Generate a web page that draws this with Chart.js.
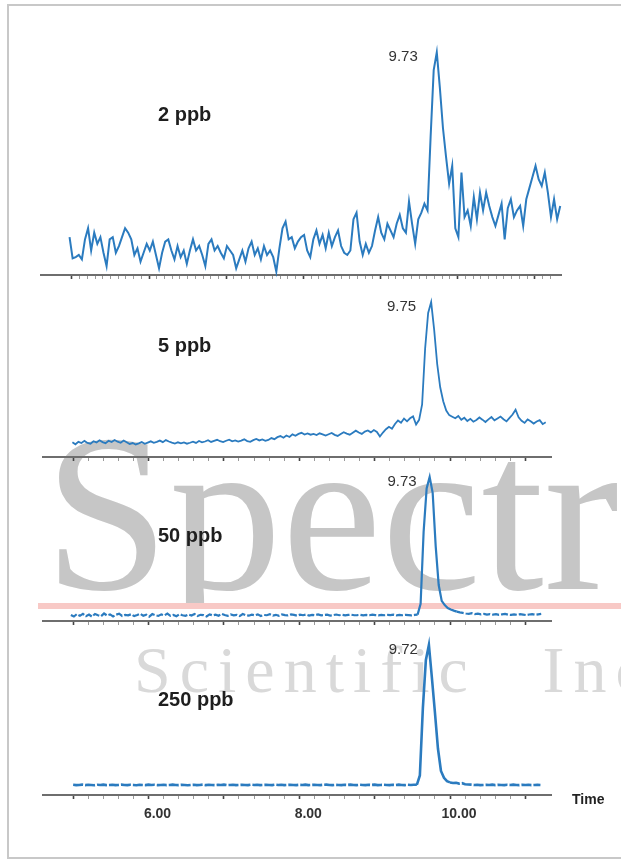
<!DOCTYPE html>
<html>
<head>
<meta charset="utf-8">
<script src="https://cdn.jsdelivr.net/npm/chart.js@4.4.1/dist/chart.umd.min.js"></script>
<style>
  html, body { margin: 0; padding: 0; background: #fff; }
  body { width: 621px; height: 860px; position: relative; overflow: hidden;
         font-family: "Liberation Sans", Arial, sans-serif; }
  .frame { position: absolute; left: 7px; top: 4px; width: 720px; height: 851px;
           border: 2px solid #c8c8c8; }
  .wm-clip { position: absolute; left: 0; top: 0; width: 621px; height: 603px; overflow: hidden; }
  .wm { position: absolute; white-space: nowrap;
        font-family: "Liberation Serif", "Times New Roman", serif; }
  .wm.big { left: 44px; top: 401px; font-size: 225px; line-height: 225px; color: #c6c6c6; }
  .wm.small { left: 134px; top: 637px; font-size: 66px; line-height: 66px; color: #d9d9d9;
              letter-spacing: 9px; word-spacing: 40px; }
  .band { position: absolute; left: 38px; top: 603px; width: 600px; height: 6px; background: #f8c9c6; }
  canvas { position: absolute; left: 0; }
  .conc { position: absolute; left: 158px; font: bold 20px/20px "Liberation Sans", Arial, sans-serif;
          color: #1e1e1e; white-space: nowrap; }
  .axis-title { position: absolute; left: 572px; top: 792px; font: bold 14px/14px "Liberation Sans", Arial, sans-serif;
                color: #222; }
</style>
</head>
<body>
<div class="frame"></div>
<div class="wm-clip"><div class="wm big">Spectr</div></div>
<div class="wm small">Scientific Inc</div>
<div class="band"></div>
<canvas id="p1" width="621" height="255" style="top:30px"></canvas>
<canvas id="p2" width="621" height="182" style="top:285px"></canvas>
<canvas id="p3" width="621" height="166" style="top:465px"></canvas>
<canvas id="p4" width="621" height="205" style="top:630px"></canvas>
<div id="labels"></div>
<div class="axis-title">Time</div>

<script>
// Detector readings, one every SAMPLE_STEP minutes, starting at each run's first time.
const SAMPLE_STEP = 0.04;

const start2ppb = 4.97;
const signal2ppb = [
  17, 7.5, 8, 9, 7, 16, 21, 11, 19, 14,
  17, 10, 4, 16, 17, 10, 13, 17, 21, 19,
  16, 9, 12, 6, 10, 14, 11, 15, 9, 3,
  10, 15, 16, 11, 7, 13, 8, 11, 5, 11,
  16, 11, 13, 9, 4, 14, 16, 11, 13, 10,
  7.5, 13, 11, 9, 3, 7, 11, 6, 12, 15,
  9, 12, 7, 13, 9, 11, 8, 1.5, 12, 21,
  24, 16, 17, 12, 15, 17, 18, 11, 8, 16,
  20, 14, 18, 12, 19, 13, 17, 20, 13, 10,
  9, 11, 25, 28, 15, 9, 14, 10, 13, 20,
  26, 19, 16, 23, 20, 17, 23, 27, 21, 19,
  33, 23, 14, 25, 28, 32, 29, 62, 92, 100,
  84, 66, 53, 41, 49, 21, 17, 46, 26, 29,
  22, 35, 25, 37, 29, 37, 31, 26, 22, 27,
  32, 16, 30, 34, 26, 29, 31, 22, 34, 39,
  44, 49, 43, 40, 46, 37, 26, 34, 25, 31
];

const start5ppb = 4.99;
const signal5ppb = [
  9.5, 8.2, 9.8, 9.0, 10.4, 9.1, 8.6, 10.2, 9.4, 10.8, 9.6, 8.9, 10.5, 9.7, 11.0, 9.9, 9.2, 10.6, 9.5, 8.4,
  9.0, 8.1, 8.8, 9.7, 8.5, 9.3, 10.1, 9.2, 9.8, 10.6, 9.6, 10.9, 10.0, 9.3, 8.7, 9.5, 8.8, 9.4, 8.6, 9.2,
  9.9, 9.1, 10.3, 9.5, 10.0, 10.8, 9.7, 10.4, 11.1, 10.2, 9.6, 10.5, 11.2, 10.1, 10.7, 9.9, 10.6, 11.4, 10.3, 9.8,
  10.9, 11.6, 10.7, 11.3, 10.4, 11.0, 12.2, 11.5, 12.8, 13.5, 12.4, 13.9, 12.9, 14.6, 13.7, 14.9, 15.6, 14.5, 15.2, 14.4,
  14.9, 14.2, 15.3, 14.6, 13.8, 14.7, 15.5, 14.3, 13.6, 14.8, 16.0, 15.1, 14.4, 15.7, 17.0, 15.8, 14.9, 16.4, 17.1, 15.9,
  17.4, 16.2, 13.2, 15.8, 17.9, 19.5, 18.2, 21.3, 23.6, 22.1, 24.8, 23.0, 25.0, 26.2, 21.0,
  24, 34, 70, 93, 100, 82, 60, 45, 36, 30, 27, 26, 25,
  26.5, 24.0, 25.3, 23.2, 24.6, 22.8, 23.9, 25.5, 24.1, 22.6, 24.3, 25.8, 23.7, 24.9, 26.1,
  24.4, 23.0, 25.2, 27.4, 30.5, 25.6, 23.4, 22.0, 24.2, 23.1, 21.6, 22.9, 23.8, 21.2, 22.4
];

const start50ppb = 4.97;
const signal50ppb = [
  4.2, 3.1, 4.8, 3.6, 5.0, 3.4, 4.5, 3.0, 4.9, 4.0, 3.3, 5.2, 3.8, 4.6, 3.2, 4.4, 5.1, 3.5, 4.3, 3.9,
  4.7, 3.4, 4.1, 5.0, 3.7, 4.4, 3.1, 4.8, 4.0, 3.5, 4.6, 3.9, 5.1, 3.6, 4.2, 3.3, 4.7, 4.0, 3.6, 4.5,
  3.8, 4.9, 3.5, 4.3, 4.1, 3.2, 4.6, 3.9, 4.4, 3.7, 5.0, 4.2, 3.6, 4.5, 3.9, 4.3, 3.4, 4.8, 4.0, 3.7,
  4.4, 3.9, 4.6, 3.5, 4.2, 4.0, 4.7, 3.8, 4.3, 3.6, 4.5, 4.1, 3.9, 4.6, 4.2, 3.7, 4.4, 4.0, 4.5, 3.8,
  4.3, 4.0, 4.6, 3.9, 4.2, 4.4, 3.8, 4.1, 4.5, 4.0, 4.3, 3.9, 4.2, 4.4, 4.0, 4.1, 4.3, 3.9, 4.2, 4.0,
  4.4, 4.1, 3.9, 4.3, 4.0, 4.2, 4.1, 4.4, 3.9, 4.2, 4.0, 4.3, 4.1, 3.9, 4.2,
  4.4, 12, 62, 92, 100, 89, 52, 25, 14, 11, 9, 8, 7.2, 6.5, 6.0, 5.6, 5.2,
  5.0, 5.4, 4.8, 5.1, 4.6, 4.9, 4.5, 4.8, 4.4, 4.7, 4.3, 4.6, 4.9,
  4.4, 4.2, 4.6, 4.3, 4.7, 4.4, 4.1, 4.5, 4.8, 4.3, 4.6, 4.9
];

const start250ppb = 5.00;
const signal250ppb = [
  6.8, 6.6, 6.7, 6.9, 6.6, 6.8, 6.7, 6.5, 6.8, 6.7, 6.9, 6.6, 6.7, 6.8, 6.6, 6.7, 6.9, 6.7, 6.6,
  6.8, 6.7, 6.5, 6.8, 6.7, 6.6, 6.9, 6.7, 6.8, 6.6, 6.7, 6.8, 6.6, 6.7, 6.9, 6.7, 6.6, 6.8, 6.7,
  6.5, 6.7, 6.8, 6.6, 6.7, 6.9, 6.6, 6.8, 6.7, 6.6, 6.8, 6.7, 6.9, 6.6, 6.7, 6.8, 6.6, 6.7, 6.8,
  6.7, 6.6, 6.9, 6.7, 6.8, 6.6, 6.7, 6.8, 6.7, 6.6, 6.9, 6.7, 6.8, 6.6, 6.7, 6.8, 6.7, 6.6, 6.8,
  6.7, 6.9, 6.6, 6.7, 6.8, 6.7, 6.6, 6.8, 6.9, 6.7, 6.6, 6.8, 6.7, 6.6, 6.8, 6.7, 6.9, 6.7, 6.6,
  6.8, 6.7, 6.6, 6.8, 6.7, 6.9, 6.6, 6.7, 6.8, 6.7, 6.6, 6.8, 6.7, 6.9, 6.7, 6.6, 6.8, 6.7, 6.8,
  6.8, 13, 58, 90, 100, 78, 55, 31, 16, 11.5, 9.2, 8.4, 8.0, 8.1, 7.6, 7.9, 7.2, 7.0,
  6.9, 6.7, 6.8, 6.6, 6.7, 6.8, 6.7, 6.9, 6.6, 6.8, 6.7, 6.6,
  6.8, 6.7, 6.9, 6.7, 6.6, 6.8, 6.7, 6.8, 6.6, 6.7, 6.8, 6.7
];

const concLabels = ['2 ppb', '5 ppb', '50 ppb', '250 ppb'];
const timeTickLabels = ['6.00', '8.00', '10.00'];
const TIME_MIN = 4.6, TIME_MAX = 11.34;

// ---- drawing ----
const BLUE = '#2b7bbf';
const FONT = '"Liberation Sans", Arial, sans-serif';

function toPoints(start, signal) {
  return signal.map((v, i) => ({ x: Math.round((start + i * SAMPLE_STEP) * 100) / 100, y: v }));
}

function isWholeMinute(v) { return Math.abs(v - Math.round(v)) < 1e-6; }

// Writes the retention time of the tallest point just left of its apex.
const retentionLabel = {
  id: 'retentionLabel',
  afterDatasetsDraw(chart, args, opts) {
    const pts = chart.data.datasets[0].data;
    let top = pts[0];
    for (const p of pts) if (p.y > top.y) top = p;
    const x = chart.scales.x.getPixelForValue(top.x);
    const y = chart.scales.y.getPixelForValue(top.y);
    const ctx = chart.ctx;
    ctx.save();
    ctx.font = '15px ' + FONT;
    ctx.fillStyle = '#333';
    ctx.textAlign = 'right';
    ctx.textBaseline = 'middle';
    ctx.fillText(top.x.toFixed(2), x - opts.gap, y + 5);
    ctx.restore();
  }
};

function panel(id, start, signal, cfg) {
  const dataset = {
    data: toPoints(start, signal),
    borderColor: BLUE,
    borderWidth: cfg.lineWidth,
    pointRadius: 0,
    tension: 0,
    clip: false
  };
  if (cfg.dash) {
    dataset.segment = {
      borderDash: c => (c.p0.parsed.y < cfg.dashBelow && c.p1.parsed.y < cfg.dashBelow) ? cfg.dash : undefined
    };
  }
  return new Chart(document.getElementById(id), {
    type: 'line',
    data: { datasets: [dataset] },
    options: {
      responsive: false,
      animation: false,
      events: [],
      layout: { padding: { left: cfg.left, right: cfg.right, top: 0, bottom: 0 } },
      plugins: {
        legend: { display: false },
        tooltip: { enabled: false },
        retentionLabel: { gap: cfg.labelGap }
      },
      scales: {
        x: {
          type: 'linear',
          min: TIME_MIN,
          max: TIME_MAX,
          afterBuildTicks: ax => {
            ax.ticks = ax.ticks.filter(t => t.value >= 4.999 && t.value <= cfg.lastTick + 1e-6);
          },
          afterFit: ax => { ax.height = cfg.axisHeight; },
          border: { display: true, color: '#6e6e6e', width: 2 },
          grid: {
            drawOnChartArea: false,
            drawTicks: true,
            tickLength: 4,
            tickColor: c => (c.tick && isWholeMinute(c.tick.value)) ? '#444' : '#9a9a9a',
            tickWidth: c => (c.tick && isWholeMinute(c.tick.value)) ? 1.6 : 1
          },
          ticks: {
            stepSize: cfg.tickStep,
            autoSkip: false,
            maxRotation: 0,
            display: cfg.showLabels,
            labelOffset: 9,
            padding: 7,
            color: '#333',
            font: { family: FONT, size: 14, weight: 'bold' },
            callback: v => timeTickLabels.includes(Number(v).toFixed(2)) ? Number(v).toFixed(2) : ''
          }
        },
        y: { display: false, min: 0, max: cfg.yMax }
      }
    },
    plugins: [retentionLabel]
  });
}

panel('p1', start2ppb, signal2ppb,
  { left: 41, right: 60, yMax: 110, axisHeight: 10, tickStep: 0.1, lastTick: 11.3, lineWidth: 2,
    labelGap: 19, showLabels: false });
panel('p2', start5ppb, signal5ppb,
  { left: 43, right: 70, yMax: 111, axisHeight: 10, tickStep: 0.2, lastTick: 11.2, lineWidth: 1.8,
    labelGap: 15, showLabels: false });
panel('p3', start50ppb, signal50ppb,
  { left: 43, right: 70, yMax: 108.3, axisHeight: 10, tickStep: 0.2, lastTick: 11.2, lineWidth: 2.2,
    labelGap: 13, dash: [7, 2], dashBelow: 7, showLabels: false });
panel('p4', start250ppb, signal250ppb,
  { left: 43, right: 70, yMax: 110, axisHeight: 40, tickStep: 0.2, lastTick: 11.2, lineWidth: 2.6,
    labelGap: 11, dash: [10, 2], dashBelow: 9, showLabels: true });

// Concentration captions beside each trace.
const captionTops = [104, 335, 525, 689];
const holder = document.getElementById('labels');
concLabels.forEach((text, i) => {
  const d = document.createElement('div');
  d.className = 'conc';
  d.style.top = captionTops[i] + 'px';
  d.textContent = text;
  holder.appendChild(d);
});
</script>
</body>
</html>
